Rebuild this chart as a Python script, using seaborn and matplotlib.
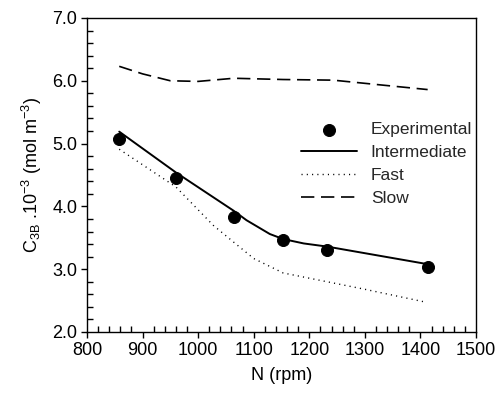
import matplotlib
matplotlib.use("Agg")
import matplotlib.pyplot as plt
import seaborn as sns
import pandas as pd
from matplotlib.ticker import MultipleLocator

# Experimental data
exp_N = [858, 960, 1064, 1153, 1232, 1413]
exp_C = [5.08, 4.45, 3.83, 3.46, 3.31, 3.03]

# Model curves
inter_N = [858, 960, 1064, 1087, 1129, 1153, 1190, 1232, 1413]
inter_C = [5.19, 4.54, 3.93, 3.78, 3.56, 3.48, 3.41, 3.36, 3.08]

fast_N = [858, 960, 1027, 1064, 1100, 1153, 1232, 1300, 1407]
fast_C = [4.91, 4.31, 3.70, 3.43, 3.17, 2.94, 2.80, 2.68, 2.48]

slow_N = [858, 900, 950, 1000, 1064, 1153, 1243, 1333, 1413]
slow_C = [6.23, 6.11, 6.00, 5.99, 6.04, 6.02, 6.01, 5.93, 5.86]

sns.set_theme(style="ticks")
plt.rcParams['font.family'] = ['Liberation Sans', 'DejaVu Sans']
plt.rcParams['mathtext.fontset'] = 'custom'
plt.rcParams['mathtext.rm'] = 'Liberation Sans'

fig = plt.figure(figsize=(5.0, 3.95), dpi=100)
ax = fig.add_axes([0.174, 0.1595, 0.778, 0.795])

sns.lineplot(x=inter_N, y=inter_C, ax=ax, color='black', lw=1.4,
             label='Intermediate', sort=False)
sns.lineplot(x=fast_N, y=fast_C, ax=ax, color='black', lw=1.0,
             linestyle=(0, (0.8, 3)), label='Fast', sort=False)
sns.lineplot(x=slow_N, y=slow_C, ax=ax, color='black', lw=1.2,
             linestyle=(0, (8, 4)), label='Slow', sort=False)
sns.scatterplot(x=exp_N, y=exp_C, ax=ax, color='black', s=75,
                edgecolor='black', label='Experimental', zorder=5)

ax.set_xlim(800, 1500)
ax.set_ylim(2.0, 7.0)
ax.xaxis.set_major_locator(MultipleLocator(100))
ax.xaxis.set_minor_locator(MultipleLocator(20))
ax.yaxis.set_major_locator(MultipleLocator(1.0))
ax.yaxis.set_minor_locator(MultipleLocator(0.2))
ax.yaxis.set_major_formatter(plt.FormatStrFormatter('%.1f'))

ax.tick_params(which='major', direction='out', length=4, width=1,
               labelsize=13, color='black', labelcolor='black', pad=3)
ax.tick_params(which='minor', direction='in', length=4, width=1, color='black')
ax.tick_params(top=False, right=False, which='both')

for sp in ax.spines.values():
    sp.set_visible(True)
    sp.set_color('black')
    sp.set_linewidth(1.0)

ax.set_xlabel('N (rpm)', fontsize=13, color='black', labelpad=6)
ax.set_ylabel(r'C$_{\mathregular{3B}}$ .10$^{\mathregular{-3}}$ (mol m$^{\mathregular{-3}}$)',
              fontsize=13, color='black', labelpad=6)

handles, labels = ax.get_legend_handles_labels()
order = [labels.index(l) for l in ['Experimental', 'Intermediate', 'Fast', 'Slow']]
ax.legend([handles[i] for i in order], [labels[i] for i in order],
          frameon=False, loc='upper left', bbox_to_anchor=(0.533, 0.69),
          fontsize=12.5, handlelength=3.2, handletextpad=0.8,
          labelspacing=0.45, borderaxespad=0)

fig.savefig('out.png', dpi=100)
